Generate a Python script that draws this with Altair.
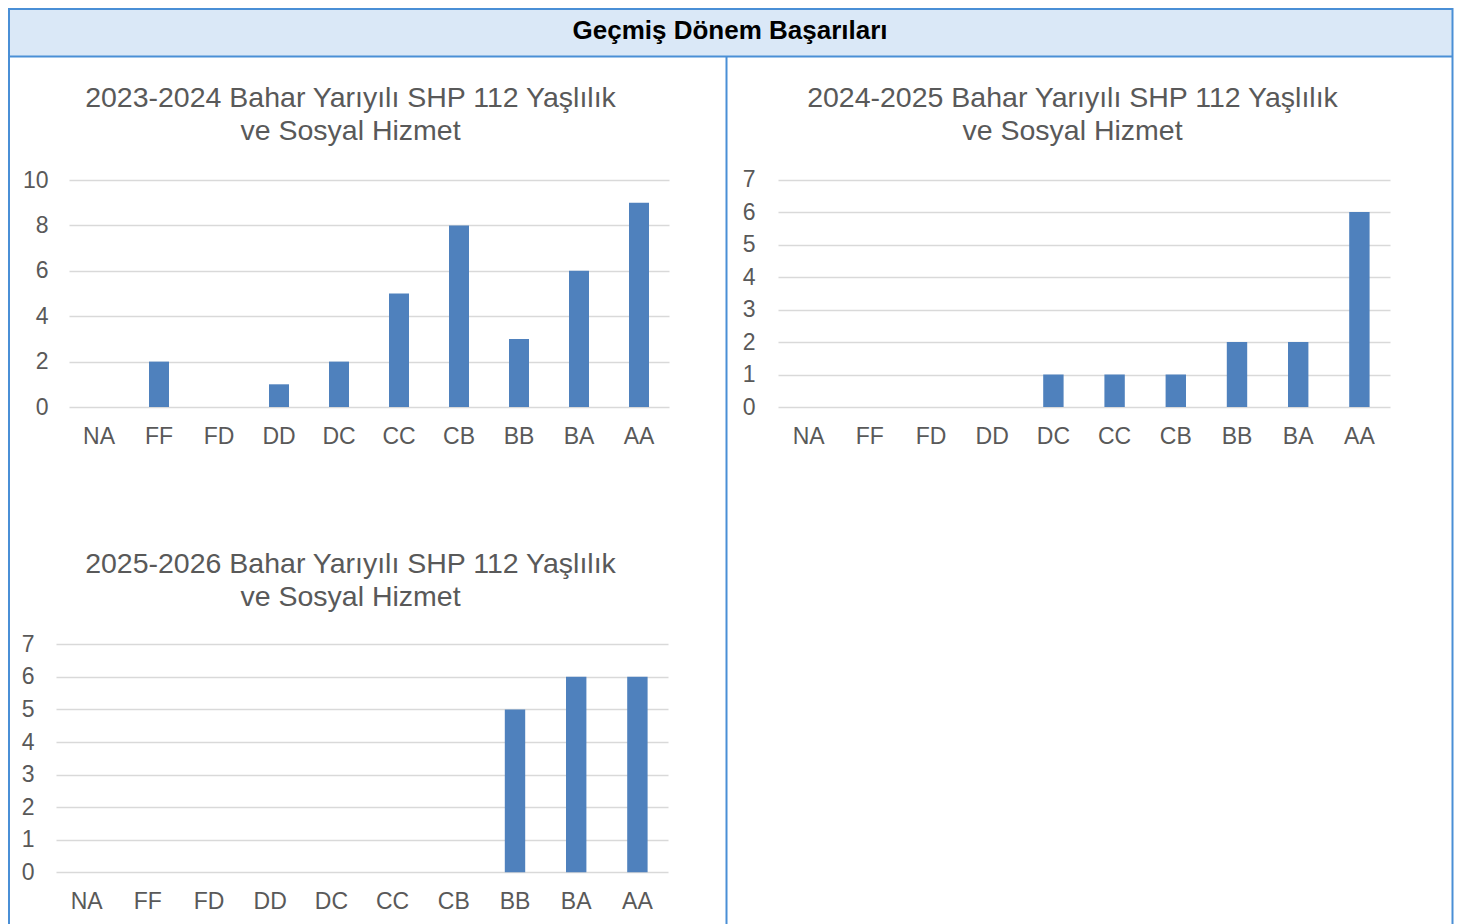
import altair as alt
import pandas as pd

# ---------------- data ----------------
grades = ["NA", "FF", "FD", "DD", "DC", "CC", "CB", "BB", "BA", "AA"]
counts_2023_2024 = [0, 2, 0, 1, 2, 5, 8, 3, 6, 9]
counts_2024_2025 = [0, 0, 0, 0, 1, 1, 1, 2, 2, 6]
counts_2025_2026 = [0, 0, 0, 0, 0, 0, 0, 5, 6, 6]
ticks_2023_2024 = [0, 2, 4, 6, 8, 10]
ticks_2024_2025 = [0, 1, 2, 3, 4, 5, 6, 7]
ticks_2025_2026 = [0, 1, 2, 3, 4, 5, 6, 7]
title_2023_2024 = ["2023-2024 Bahar Yarıyılı SHP 112 Yaşlılık", "ve Sosyal Hizmet"]
title_2024_2025 = ["2024-2025 Bahar Yarıyılı SHP 112 Yaşlılık", "ve Sosyal Hizmet"]
title_2025_2026 = ["2025-2026 Bahar Yarıyılı SHP 112 Yaşlılık", "ve Sosyal Hizmet"]
header_text = "Geçmiş Dönem Başarıları"

# ---------------- style ----------------
W, H = 1458, 916
FONT = "Liberation Sans"
BAR = "#4f81bd"
GRID = "#d9d9d9"
TXT = "#595959"
BORDER = "#4a8fd6"
HEADER_BG = "#dae8f7"
TITLE_SIZE = 28.5
LABEL_SIZE = 23

one = pd.DataFrame({"k": [0]})


def bar_chart(counts, ticks, xrange, yrange, ymax, xoff, yoff):
    df = pd.DataFrame({"grade": grades, "count": counts})
    return alt.Chart(df).mark_bar(color=BAR).encode(
        x=alt.X(
            "grade:N",
            sort=grades,
            scale=alt.Scale(domain=grades, range=xrange, paddingInner=2 / 3, paddingOuter=1 / 3),
            axis=alt.Axis(
                orient="bottom", title=None, labelAngle=0, domain=False, ticks=False,
                tickSize=0, labelPadding=0, offset=xoff, grid=False,
                labelFont=FONT, labelFontSize=LABEL_SIZE, labelColor=TXT,
                labelBaseline="middle",
            ),
        ),
        y=alt.Y(
            "count:Q",
            scale=alt.Scale(domain=[0, ymax], range=yrange, nice=False, zero=True),
            axis=alt.Axis(
                orient="left", title=None, values=ticks, domain=False, ticks=False,
                tickSize=0, labelPadding=0, offset=yoff, grid=True,
                gridColor=GRID, gridWidth=1.5,
                labelFont=FONT, labelFontSize=LABEL_SIZE, labelColor=TXT,
                labelAlign="right",
            ),
        ),
    )


def text_line(txt, x, y, size, color, weight="normal"):
    return alt.Chart(one).mark_text(
        font=FONT, fontSize=size, color=color, fontWeight=weight,
        align="center", baseline="alphabetic",
    ).encode(x=alt.value(x), y=alt.value(y), text=alt.value(txt))


def rule(x, x2, y, y2):
    return alt.Chart(one).mark_rule(color=BORDER, strokeWidth=2).encode(
        x=alt.value(x), x2=alt.value(x2), y=alt.value(y), y2=alt.value(y2)
    )


header_bg = alt.Chart(one).mark_rect(fill=HEADER_BG).encode(
    x=alt.value(0), x2=alt.value(1445), y=alt.value(0), y2=alt.value(49)
)

frame = [
    rule(1, 1, 0, H),            # left border
    rule(1444.5, 1444.5, 0, H),  # right border
    rule(0, 1445, 1, 1),         # top border
    rule(0, 1445, 48.5, 48.5),   # header bottom
    rule(718.5, 718.5, 48.5, H),  # column divider
]

c1 = bar_chart(counts_2023_2024, ticks_2023_2024, [61, 661], [399, 172], 10, -488, -40)
c2 = bar_chart(counts_2024_2025, ticks_2024_2025, [770, 1382], [399, 171.5], 7, -488, -747)
c3 = bar_chart(counts_2025_2026, ticks_2025_2026, [48, 660], [864.3, 636.3], 7, -23, -26)

titles = [
    text_line(title_2023_2024[0], 342.5, 98.7, TITLE_SIZE, TXT),
    text_line(title_2023_2024[1], 342.5, 131.7, TITLE_SIZE, TXT),
    text_line(title_2024_2025[0], 1064.5, 98.7, TITLE_SIZE, TXT),
    text_line(title_2024_2025[1], 1064.5, 131.7, TITLE_SIZE, TXT),
    text_line(title_2025_2026[0], 342.5, 564.7, TITLE_SIZE, TXT),
    text_line(title_2025_2026[1], 342.5, 597.7, TITLE_SIZE, TXT),
]

header = text_line(header_text, 722, 31, 26, "#000000", "bold")

chart = alt.layer(
    header_bg, c1, c2, c3, header, *titles, *frame
).resolve_scale(
    x="independent", y="independent"
).properties(
    width=W, height=H, padding=0, autosize=alt.AutoSizeParams(type="none"),
    background="white",
).configure_view(stroke=None)

chart.save("out.html", embed_options={"renderer": "svg", "actions": False})
